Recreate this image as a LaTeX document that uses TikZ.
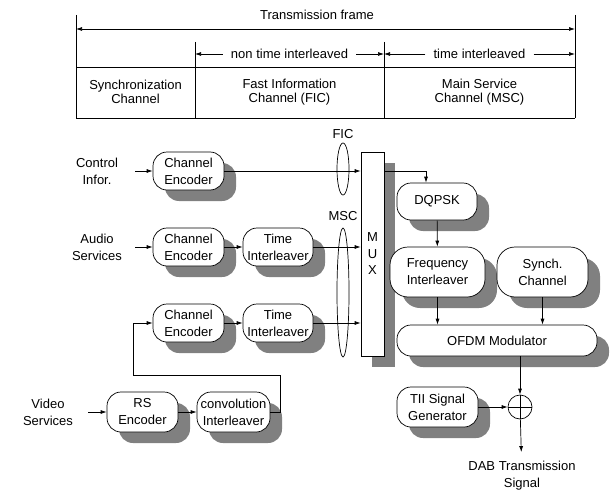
\documentclass[tikz,border=0pt]{standalone}
\usepackage{fontspec}
\setmainfont{Liberation Sans}
\usetikzlibrary{arrows.meta,shadows,shapes.geometric}

\begin{document}
\begin{tikzpicture}[x=1pt,y=-1pt,line width=0.7pt,font=\fontsize{13}{17}\selectfont]
	% styles
	\tikzstyle{shd} = [drop shadow={shadow xshift=12pt,shadow yshift=-11pt,fill=black!50,opacity=1}]
	\tikzstyle{blk} = [draw,fill=white,rounded corners=14pt,inner sep=0pt,align=center,shd]
	\tikzstyle{src} = [align=center,inner sep=0pt,minimum width=76pt]
	\tikzstyle{cell} = [align=center,font=\fontsize{13}{14.5}\selectfont]
	\tikzstyle{grp} = [draw,ellipse,inner sep=0pt,minimum width=12pt]
	\tikzstyle{arr} = [-{Latex[length=6pt,width=4pt]}]
	\tikzstyle{dbl} = [{Latex[length=6pt,width=4pt]}-{Latex[length=6pt,width=4pt]}]
	
	% bounding box
	\useasboundingbox (0,0) rectangle (612,492);
	
	% frame table
	\draw (76,15) -- (76,118) (575,15) -- (575,118);
	\draw (195,42) -- (195,118) (384,42) -- (384,118);
	\draw (76,67) -- (575,67) (76,118) -- (575,118);
	\draw[dbl] (76,29) -- (575,29);
	\node (frame) at (317,15) {Transmission frame};
	\node[inner xsep=8pt] (nti) at (289.5,54) {non time interleaved};
	\node[inner xsep=8pt] (tin) at (479.5,54) {time interleaved};
	\draw[arr] (nti.west) -- (195,54);
	\draw[arr] (nti.east) -- (384,54);
	\draw[arr] (tin.west) -- (384,54);
	\draw[arr] (tin.east) -- (575,54);
	\node[cell] (sync) at (135.5,92) {Synchronization\\Channel};
	\node[cell] (fastic) at (289.5,92) {Fast Information\\Channel (FIC)};
	\node[cell] (mainsc) at (479.5,92) {Main Service\\Channel (MSC)};
	
	% sources
	\node[src] (ctrl) at (97,171) {Control\\Infor.};
	\node[src] (audio) at (97,247) {Audio\\Services};
	\node[src,minimum width=80pt] (video) at (48,412) {Video\\Services};
	
	% coding chains
	\node[blk,minimum width=71pt,minimum height=38pt] (enc1) at (188.5,171) {Channel\\Encoder};
	\node[blk,minimum width=71pt,minimum height=38pt] (enc2) at (188.5,247) {Channel\\Encoder};
	\node[blk,minimum width=70pt,minimum height=38pt] (ti2) at (278,247) {Time\\Interleaver};
	\node[blk,minimum width=71pt,minimum height=38pt] (enc3) at (188.5,323) {Channel\\Encoder};
	\node[blk,minimum width=70pt,minimum height=38pt] (ti3) at (278,323) {Time\\Interleaver};
	\node[blk,minimum width=71pt,minimum height=40pt] (rs) at (142.5,412) {RS\\Encoder};
	\node[blk,minimum width=73pt,minimum height=40pt] (conv) at (233.5,412) {convolution\\Interleaver};
	\coordinate (loop) at (133,375);
	
	% multiplexer
	\node[grp,minimum height=52pt,label={above:FIC}] (fic) at (343,169) {};
	\node[grp,minimum height=129pt,label={[label distance=3pt]above:MSC}] (msc) at (343,292.5) {};
	\node[draw,fill=white,minimum width=23pt,minimum height=204pt,inner sep=0pt,align=center,
		font=\fontsize{13}{16.5}\selectfont,
		drop shadow={shadow xshift=11pt,shadow yshift=-11pt,fill=black!50,opacity=1}] (mux) at (372.5,254) {M\\U\\X};
	
	% transmitter
	\node[blk,minimum width=80pt,minimum height=37pt] (dqpsk) at (437,201.5) {DQPSK};
	\node[blk,minimum width=95pt,minimum height=50pt,rounded corners=18pt] (freq) at (437.5,272) {Frequency\\Interleaver};
	\node[blk,minimum width=91pt,minimum height=50pt,rounded corners=18pt] (synch) at (542.5,272) {Synch.\\Channel};
	\node[blk,minimum width=200pt,minimum height=31pt] (ofdm) at (497,340.5) {OFDM Modulator};
	\node[blk,minimum width=81pt,minimum height=40pt] (tii) at (437.5,407) {TII Signal\\Generator};
	\node[draw,circle,minimum size=24pt,inner sep=0pt,
		path picture={\draw (path picture bounding box.north) -- (path picture bounding box.south)
			(path picture bounding box.west) -- (path picture bounding box.east);}] (add) at (520,407) {};
	\node[align=center,inner sep=0pt,inner ysep=9pt] (dab) at (522,476) {DAB Transmission\\Signal};
	
	% connections
	\draw[arr] (ctrl) -- (enc1);
	\draw[arr] (enc1) -- (mux.west |- enc1);
	\draw[arr] (mux.east |- enc1) -| ([xshift=-11pt]dqpsk.north);
	\draw[arr] (audio) -- (enc2);
	\draw[arr] (enc2) -- (ti2);
	\draw[arr] (ti2) -- (mux.west |- ti2);
	\draw[arr] (enc3) -- (ti3);
	\draw[arr] (ti3) -- (mux.west |- ti3);
	\draw[arr] (video) -- (rs);
	\draw[arr] (rs) -- (conv);
	\draw[arr] (conv.east) -- ++(10,0) |- (loop) |- (enc3.west);
	\draw[arr] (dqpsk) -- (freq);
	\draw[arr] (freq) -- (ofdm.north -| freq);
	\draw[arr] (synch) -- (ofdm.north -| synch);
	\draw[arr] (ofdm.south -| add) -- (add);
	\draw[arr] (tii) -- (add);
	\draw[arr] (add) -- (dab);
\end{tikzpicture}
\end{document}
